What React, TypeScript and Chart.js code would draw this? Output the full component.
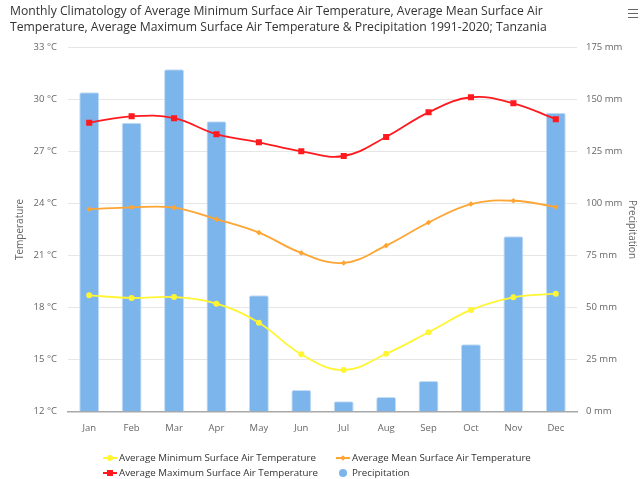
import React, { useEffect, useRef } from "react";
import { Chart, registerables } from "chart.js";

Chart.register(...registerables);

const months = ["Jan", "Feb", "Mar", "Apr", "May", "Jun", "Jul", "Aug", "Sep", "Oct", "Nov", "Dec"];
const minTemp = [18.7, 18.55, 18.6, 18.22, 17.12, 15.3, 14.39, 15.33, 16.57, 17.86, 18.59, 18.8];
const meanTemp = [23.67, 23.78, 23.76, 23.09, 22.32, 21.15, 20.57, 21.57, 22.9, 23.97, 24.16, 23.8];
const maxTemp = [28.66, 29.03, 28.92, 28.0, 27.53, 27.01, 26.74, 27.84, 29.26, 30.13, 29.78, 28.86];
const precip = [153.5, 138.8, 164.5, 139.5, 55.9, 10.3, 4.9, 7.0, 14.7, 32.3, 84.2, 143.6];

const titleLines = [
  "Monthly Climatology of Average Minimum Surface Air Temperature, Average Mean Surface Air",
  "Temperature, Average Maximum Surface Air Temperature & Precipitation 1991-2020; Tanzania",
];
const legendNames = [
  "Average Minimum Surface Air Temperature",
  "Average Mean Surface Air Temperature",
  "Average Maximum Surface Air Temperature",
  "Precipitation",
];

const YELLOW = "#fff533";
const ORANGE = "#ffa533";
const RED = "#ff1a1f";
const BLUE = "#7cb5ec";
const FONT = "'Open Sans', sans-serif";

function LegendItem({ x, y, kind, color, text }: { x: number; y: number; kind: string; color: string; text: string }) {
  const marker: React.CSSProperties = { position: "absolute", background: color };
  let m: React.ReactNode = null;
  if (kind === "circle") {
    m = <div style={{ ...marker, left: x + 3, top: y - 3, width: 6, height: 6, borderRadius: 3 }} />;
  } else if (kind === "diamond") {
    m = <div style={{ ...marker, left: x + 4, top: y - 2, width: 4, height: 4, transform: "rotate(45deg)" }} />;
  } else if (kind === "square") {
    m = <div style={{ ...marker, left: x + 3, top: y - 3, width: 6, height: 6 }} />;
  } else {
    m = <div style={{ ...marker, left: x + 2, top: y - 4, width: 8, height: 8, borderRadius: 4 }} />;
  }
  return (
    <>
      {kind !== "dot" && (
        <div style={{ position: "absolute", left: x - 1, top: y - 1, width: 14, height: 2, background: color }} />
      )}
      {m}
      <div
        style={{
          position: "absolute",
          left: x + 15,
          top: y - 7,
          height: 14,
          lineHeight: "14px",
          fontSize: 9.75,
          fontFamily: FONT,
          color: "#333",
          whiteSpace: "nowrap",
        }}
      >
        {text}
      </div>
    </>
  );
}

export default function App() {
  const ref = useRef<HTMLCanvasElement | null>(null);

  useEffect(() => {
    if (!ref.current) return;
    const chart = new Chart(ref.current, {
      type: "bar",
      data: {
        labels: months,
        datasets: [
          {
            type: "line",
            label: legendNames[0],
            data: minTemp,
            yAxisID: "y",
            borderColor: YELLOW,
            backgroundColor: YELLOW,
            borderWidth: 1.8,
            pointStyle: "circle",
            pointRadius: 3,
            pointBorderWidth: 0,
            tension: 0.4,
            order: 1,
          },
          {
            type: "line",
            label: legendNames[1],
            data: meanTemp,
            yAxisID: "y",
            borderColor: ORANGE,
            backgroundColor: ORANGE,
            borderWidth: 1.8,
            pointStyle: "rectRot",
            pointRadius: 2.8,
            pointBorderWidth: 0,
            tension: 0.4,
            order: 1,
          },
          {
            type: "line",
            label: legendNames[2],
            data: maxTemp,
            yAxisID: "y",
            borderColor: RED,
            backgroundColor: RED,
            borderWidth: 1.8,
            pointStyle: "rect",
            pointRadius: 4.3,
            pointBorderWidth: 0,
            tension: 0.4,
            order: 0,
          },
          {
            type: "bar",
            label: legendNames[3],
            data: precip,
            yAxisID: "y1",
            backgroundColor: BLUE,
            borderColor: "#c4dcf4",
            borderWidth: { top: 1, left: 1, right: 1, bottom: 0 },
            borderRadius: { topLeft: 2, topRight: 2, bottomLeft: 0, bottomRight: 0 },
            borderSkipped: "bottom",
            categoryPercentage: 1,
            barPercentage: 0.47,
            order: 10,
          },
        ],
      },
      options: {
        responsive: false,
        animation: false,
        layout: { padding: { top: 47.5, bottom: 45.5, left: 0, right: 0 } },
        plugins: {
          legend: { display: false },
          title: { display: false },
          tooltip: { enabled: false },
        },
        scales: {
          x: {
            offset: true,
            grid: { display: false, drawTicks: false },
            border: { display: true, color: "#a8a8a8", width: 1.5 },
            ticks: { color: "#666", font: { size: 9.5, family: FONT }, padding: 11 },
            afterFit: (s: any) => {
              s.height = 22;
            },
          },
          y: {
            position: "left",
            min: 12,
            max: 33,
            ticks: {
              stepSize: 3,
              color: "#666",
              font: { size: 9.5, family: FONT },
              padding: 11,
              callback: (v: any) => v + " °C",
            },
            grid: { color: "#e6e6e6", drawTicks: false, lineWidth: 1 },
            border: { display: false },
            title: {
              display: true,
              text: "Temperature",
              color: "#666",
              font: { size: 10, family: FONT },
              padding: { top: 14, bottom: 0 },
            },
            afterFit: (s: any) => {
              s.width = 68;
            },
          },
          y1: {
            position: "right",
            min: 0,
            max: 175,
            ticks: {
              stepSize: 25,
              color: "#666",
              font: { size: 9.5, family: FONT },
              padding: 9,
              callback: (v: any) => v + " mm",
            },
            grid: { display: false, drawTicks: false },
            border: { display: false },
            title: {
              display: true,
              text: "Precipitation",
              color: "#666",
              font: { size: 10, family: FONT },
              padding: { top: 2, bottom: 0 },
            },
            afterFit: (s: any) => {
              s.width = 63;
            },
          },
        },
      },
    } as any);
    return () => chart.destroy();
  }, []);

  return (
    <div style={{ position: "fixed", left: 0, top: 0, width: 640, height: 479, background: "#fff", overflow: "hidden" }}>
      <canvas ref={ref} width={640} height={479} style={{ position: "absolute", left: 0, top: 0 }} />
      <div
        style={{
          position: "absolute",
          left: 10,
          top: 3,
          fontFamily: FONT,
          fontSize: 12.2,
          lineHeight: "16px",
          color: "#333",
          whiteSpace: "nowrap",
        }}
      >
        {titleLines.map((t, i) => (
          <div key={i}>{t}</div>
        ))}
      </div>
      {[8.5, 12.5, 16.5].map((t) => (
        <div key={t} style={{ position: "absolute", left: 628, top: t, width: 10, height: 1.6, background: "#666" }} />
      ))}
      <LegendItem x={104} y={457.5} kind="circle" color={YELLOW} text={legendNames[0]} />
      <LegendItem x={337} y={457.5} kind="diamond" color={ORANGE} text={legendNames[1]} />
      <LegendItem x={104} y={472.5} kind="square" color={RED} text={legendNames[2]} />
      <LegendItem x={337} y={472.5} kind="dot" color={BLUE} text={legendNames[3]} />
    </div>
  );
}
